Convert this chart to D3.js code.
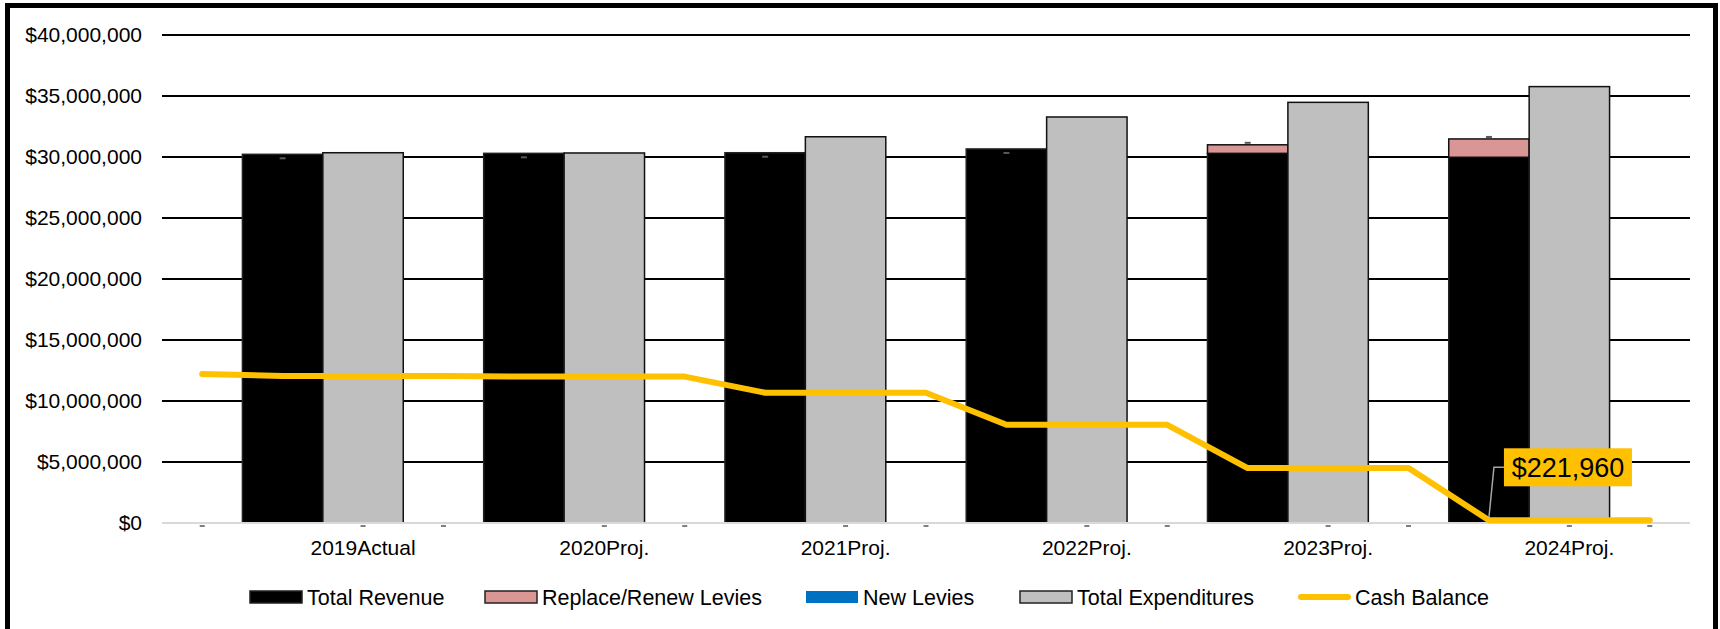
<!DOCTYPE html>
<html>
<head>
<meta charset="utf-8">
<script src="https://cdn.jsdelivr.net/npm/d3@7"></script>
<style>
  html, body { margin: 0; padding: 0; background: #fff; }
  svg { display: block; font-family: "Liberation Sans", Arial, sans-serif; }
</style>
</head>
<body>
<svg id="chart" width="1720" height="629"></svg>
<script>
// ---- data ----
const categories = ["2019Actual", "2020Proj.", "2021Proj.", "2022Proj.", "2023Proj.", "2024Proj."];
const totalRevenue = [30220000, 30300000, 30350000, 30660000, 30300000, 29980000];
const replaceRenewLevies = [0, 0, 0, 0, 700000, 1500000];
const newLevies = [0, 0, 0, 0, 0, 0];
const totalExpenditures = [30350000, 30330000, 31660000, 33280000, 34480000, 35770000];
const cashStart = 12210000;
const cashBalance = [12050000, 12000000, 10680000, 8050000, 4500000, 221960];
const yTicks = [0, 5000000, 10000000, 15000000, 20000000, 25000000, 30000000, 35000000, 40000000];
const seriesNames = ["Total Revenue", "Replace/Renew Levies", "New Levies", "Total Expenditures", "Cash Balance"];
const seriesColors = ["#000000", "#DA9694", "#0070C0", "#BFBFBF", "#FFC000"];

// ---- layout ----
const svg = d3.select("#chart");
const plotLeft = 162, plotRight = 1690, plotTop = 35, plotBottom = 523;

// 3 slots per year (gap, revenue, expenditures) + one trailing slot
const nSlots = categories.length * 3 + 1;
const x = d3.scaleBand().domain(d3.range(nSlots)).range([plotLeft, plotRight]).padding(0);
const y = d3.scaleLinear().domain([0, 40000000]).range([plotBottom, plotTop]);
const fmt = v => "$" + d3.format(",")(v);

// frame
svg.append("rect").attr("x", 7.5).attr("y", 5.5).attr("width", 1708).attr("height", 660)
  .attr("fill", "none").attr("stroke", "#000").attr("stroke-width", 5);

// gridlines
svg.append("g").selectAll("line").data(yTicks.filter(d => d > 0)).join("line")
  .attr("x1", plotLeft).attr("x2", plotRight)
  .attr("y1", d => y(d)).attr("y2", d => y(d))
  .attr("stroke", "#000").attr("stroke-width", 2);

// y axis labels
svg.append("g").selectAll("text").data(yTicks).join("text")
  .attr("x", 142).attr("y", d => y(d)).attr("dy", "0.35em")
  .attr("text-anchor", "end").attr("font-size", 21).attr("fill", "#000")
  .text(d => fmt(d));

// bars
const years = d3.range(categories.length);
const gBars = svg.append("g");
gBars.selectAll("rect.rev").data(years).join("rect")
  .attr("x", i => x(3 * i + 1)).attr("width", x.bandwidth())
  .attr("y", i => y(totalRevenue[i])).attr("height", i => y(0) - y(totalRevenue[i]))
  .attr("fill", seriesColors[0]).attr("stroke", "#222").attr("stroke-width", 1.5);
gBars.selectAll("rect.rr").data(years.filter(i => replaceRenewLevies[i] > 0)).join("rect")
  .attr("x", i => x(3 * i + 1)).attr("width", x.bandwidth())
  .attr("y", i => y(totalRevenue[i] + replaceRenewLevies[i]))
  .attr("height", i => y(totalRevenue[i]) - y(totalRevenue[i] + replaceRenewLevies[i]))
  .attr("fill", seriesColors[1]).attr("stroke", "#111").attr("stroke-width", 1.5);
gBars.selectAll("rect.exp").data(years).join("rect")
  .attr("x", i => x(3 * i + 2)).attr("width", x.bandwidth())
  .attr("y", i => y(totalExpenditures[i])).attr("height", i => y(0) - y(totalExpenditures[i]))
  .attr("fill", seriesColors[3]).attr("stroke", "#111").attr("stroke-width", 1.5);

// zero axis line
svg.append("line").attr("x1", plotLeft).attr("x2", plotRight)
  .attr("y1", y(0)).attr("y2", y(0)).attr("stroke", "#D9D9D9").attr("stroke-width", 2);

// "-" zero labels (New Levies) on top of the revenue stacks
svg.append("g").selectAll("rect").data(years).join("rect")
  .attr("x", i => x(3 * i + 1) + x.bandwidth() / 2 - 3)
  .attr("y", i => y(totalRevenue[i] + replaceRenewLevies[i] + newLevies[i]) + (replaceRenewLevies[i] > 0 ? -3 : 3))
  .attr("width", 6).attr("height", 2).attr("fill", "#595959");

// "-" marks along the axis
svg.append("g").selectAll("rect").data(d3.range(nSlots).filter(i => i % 3 !== 1)).join("rect")
  .attr("x", i => x(i) + x.bandwidth() / 2 - 2.5).attr("y", y(0) + 2)
  .attr("width", 5).attr("height", 2).attr("fill", "#7f7f7f");

// x labels
svg.append("g").selectAll("text").data(years).join("text")
  .attr("x", i => x(3 * i + 2) + x.bandwidth() / 2).attr("y", 555)
  .attr("text-anchor", "middle").attr("font-size", 21).attr("fill", "#000")
  .text(i => categories[i]);

// cash balance line
const cashPts = [{ slot: 0, v: cashStart }];
cashBalance.forEach((v, i) => { for (let k = 1; k <= 3; k++) cashPts.push({ slot: 3 * i + k, v }); });
const line = d3.line().x(d => x(d.slot) + x.bandwidth() / 2).y(d => y(d.v));
svg.append("path").datum(cashPts).attr("d", line)
  .attr("fill", "none").attr("stroke", seriesColors[4]).attr("stroke-width", 6)
  .attr("stroke-linecap", "round").attr("stroke-linejoin", "round");

// data label for last-year cash balance
const lastIdx = cashBalance.length - 1;
const px = x(3 * lastIdx + 1) + x.bandwidth() / 2, py = y(cashBalance[lastIdx]);
const boxX = px + 15, boxY = py - 72, boxW = 128, boxH = 38;
svg.append("path")
  .attr("d", `M${px},${py - 3} L${px + 5},${boxY + boxH / 2} L${boxX},${boxY + boxH / 2}`)
  .attr("fill", "none").attr("stroke", "#A6A6A6").attr("stroke-width", 1.5);
svg.append("rect").attr("x", boxX).attr("y", boxY).attr("width", boxW).attr("height", boxH)
  .attr("fill", seriesColors[4]);
svg.append("text").attr("x", boxX + boxW / 2).attr("y", boxY + boxH / 2).attr("dy", "0.36em")
  .attr("text-anchor", "middle").attr("font-size", 27).attr("fill", "#000")
  .text(fmt(cashBalance[lastIdx]));

// legend
const lg = svg.append("g");
const legendX = [250, 485, 806, 1020, 1298];
const ly = 597;
seriesNames.forEach((name, i) => {
  const lx = legendX[i];
  if (i === 4) {
    lg.append("line").attr("x1", lx + 3).attr("x2", lx + 50).attr("y1", ly).attr("y2", ly)
      .attr("stroke", seriesColors[i]).attr("stroke-width", 6).attr("stroke-linecap", "round");
  } else {
    lg.append("rect").attr("x", lx).attr("y", ly - 6).attr("width", 52).attr("height", 12)
      .attr("fill", seriesColors[i])
      .attr("stroke", i === 2 ? "none" : "#222").attr("stroke-width", 1.5);
  }
  lg.append("text").attr("x", lx + 57).attr("y", ly).attr("dy", "0.35em")
    .attr("font-size", 21.5).attr("fill", "#000").text(name);
});
</script>
</body>
</html>
